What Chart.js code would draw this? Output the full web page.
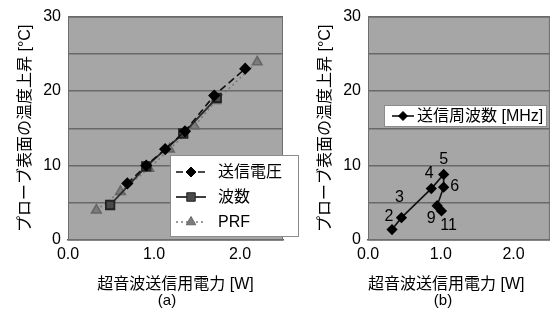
<!DOCTYPE html>
<html>
<head>
<meta charset="utf-8">
<script src="https://cdn.jsdelivr.net/npm/chart.js@4/dist/chart.umd.min.js"></script>
<style>
  html, body { margin: 0; padding: 0; background: #fff; }
  #wrap { position: relative; width: 556px; height: 320px; overflow: hidden; }
  canvas { position: absolute; top: 0; }
  #chartA { left: 0; }
  #chartB { left: 300px; }
  .cap { position: absolute; top: 291px; width: 40px; text-align: center;
         font: 15px "Liberation Sans", sans-serif; color: #000; }
</style>
</head>
<body>
<div id="wrap">
  <canvas id="chartA" width="300" height="320"></canvas>
  <canvas id="chartB" width="256" height="320"></canvas>
  <div class="cap" style="left:147px">(a)</div>
  <div class="cap" style="left:423px">(b)</div>
</div>
<script>
// (a) 送信条件を変えたときの温度上昇
const VOLT_X = [0.69, 0.91, 1.13, 1.36, 1.70, 2.06];
const VOLT_Y = [7.6, 10.0, 12.2, 14.6, 19.4, 23.0];
const WAVE_X = [0.49, 0.91, 1.34, 1.73];
const WAVE_Y = [4.7, 9.9, 14.3, 19.1];
const PRF_X = [0.33, 0.61, 0.94, 1.18, 1.47, 1.72, 2.20];
const PRF_Y = [4.0, 6.5, 9.6, 12.2, 15.3, 18.7, 23.9];

// (b) 送信周波数 [MHz]
const FREQ_X = [0.33, 0.46, 0.87, 1.04, 1.04, 0.95, 1.01];
const FREQ_Y = [1.4, 3.0, 6.9, 8.8, 7.1, 4.6, 3.9];
const FREQ_LABELS = ['2', '3', '4', '5', '6', '9', '11'];

const X_TICKS = [0, 1, 2];
const Y_TICKS = [0, 10, 20, 30];
const X_TITLE = '超音波送信用電力 [W]';
const Y_TITLE = 'プローブ表面の温度上昇 [°C]';

const FONT = '"Liberation Sans", "Noto Sans CJK JP", sans-serif';
Chart.defaults.font.family = FONT;
Chart.defaults.color = '#000';

const toPoints = (xs, ys) => xs.map((x, i) => ({ x: x, y: ys[i] }));

// gray plot area + outline
const plotBg = {
  id: 'plotBg',
  beforeDraw(chart) {
    const { ctx, chartArea: a } = chart;
    ctx.save();
    ctx.fillStyle = '#a6a6a6';
    ctx.fillRect(a.left, a.top, a.right - a.left, a.bottom - a.top);
    ctx.restore();
  },
  beforeDatasetsDraw(chart) {
    const { ctx, chartArea: a } = chart;
    ctx.save();
    ctx.strokeStyle = '#6e6e6e';
    ctx.lineWidth = 1;
    ctx.strokeRect(a.left + 0.5, a.top + 0.5, a.right - a.left - 1, a.bottom - a.top - 1);
    ctx.restore();
  }
};

// legend box drawn inside the plot like the original
const boxLegend = {
  id: 'boxLegend',
  afterDatasetsDraw(chart, args, o) {
    const ctx = chart.ctx;
    ctx.save();
    ctx.fillStyle = '#fff';
    ctx.fillRect(o.left, o.top, o.width, o.height);
    ctx.strokeStyle = '#8c8c8c';
    ctx.lineWidth = 1;
    ctx.strokeRect(o.left + 0.5, o.top + 0.5, o.width - 1, o.height - 1);
    chart.data.datasets.forEach((ds, i) => {
      const y = o.top + o.rowTop + i * o.rowGap;
      ctx.strokeStyle = ds.borderColor;
      ctx.lineWidth = ds.borderWidth;
      ctx.setLineDash(ds.borderDash || []);
      ctx.beginPath();
      ctx.moveTo(o.left + o.x0, y);
      ctx.lineTo(o.left + o.x1, y);
      ctx.stroke();
      ctx.setLineDash([]);
      ctx.fillStyle = ds.pointBackgroundColor;
      ctx.strokeStyle = ds.pointBorderColor;
      ctx.lineWidth = 1;
      Chart.helpers.drawPoint(ctx, {
        pointStyle: ds.pointStyle, radius: ds.pointRadius, rotation: 0, borderWidth: 1
      }, o.left + (o.x0 + o.x1) / 2, y);
      ctx.fillStyle = '#000';
      ctx.font = '16px ' + FONT;
      ctx.textAlign = 'left';
      ctx.textBaseline = 'middle';
      ctx.fillText(ds.label, o.left + o.textX, y + 1);
    });
    ctx.restore();
  }
};

// numbers next to the points of (b)
const pointTags = {
  id: 'pointTags',
  afterDatasetsDraw(chart, args, o) {
    const ctx = chart.ctx;
    const meta = chart.getDatasetMeta(0);
    ctx.save();
    ctx.fillStyle = '#000';
    ctx.font = '16px ' + FONT;
    ctx.textAlign = 'center';
    ctx.textBaseline = 'middle';
    meta.data.forEach((pt, i) => {
      const off = o.offsets[i];
      ctx.fillText(o.labels[i], pt.x + off[0], pt.y + off[1]);
    });
    ctx.restore();
  }
};

function makeScales(titleAlign) {
  return {
    x: {
      type: 'linear',
      min: 0,
      max: 2.5,
      afterFit: (s) => { s.height = 80; },
      grid: { display: false, drawTicks: false },
      border: { color: '#5a5a5a', width: 1.5 },
      ticks: {
        stepSize: 0.5,
        padding: 5,
        maxRotation: 0,
        font: { size: 16 },
        callback: (v) => (X_TICKS.includes(v) ? v.toFixed(1) : '')
      },
      title: {
        display: true,
        text: X_TITLE,
        align: titleAlign,
        font: { size: 16 },
        padding: { top: 0, bottom: 26 }
      }
    },
    y: {
      type: 'linear',
      min: 0,
      max: 30,
      afterFit: (s) => { s.width = 68; },
      grid: { color: '#686868', lineWidth: 1.5, drawTicks: false },
      border: { color: '#6e6e6e', width: 1 },
      ticks: {
        stepSize: 5,
        padding: 7,
        font: { size: 16 },
        callback: (v) => (Y_TICKS.includes(v) ? String(v) : '')
      },
      title: {
        display: true,
        text: Y_TITLE,
        font: { size: 16 },
        padding: { top: 16, bottom: 0 }
      }
    }
  };
}

new Chart(document.getElementById('chartA'), {
  type: 'scatter',
  data: {
    datasets: [
      {
        label: '送信電圧',
        data: toPoints(VOLT_X, VOLT_Y),
        showLine: true,
        borderColor: '#111',
        borderWidth: 1.6,
        borderDash: [7, 4],
        pointStyle: 'rectRot',
        pointRadius: 5,
        pointBackgroundColor: '#000',
        pointBorderColor: '#000'
      },
      {
        label: '波数',
        data: toPoints(WAVE_X, WAVE_Y),
        showLine: true,
        borderColor: '#2a2a2a',
        borderWidth: 1.8,
        pointStyle: 'rect',
        pointRadius: 6,
        pointBackgroundColor: '#4a4a4a',
        pointBorderColor: '#222'
      },
      {
        label: 'PRF',
        data: toPoints(PRF_X, PRF_Y),
        showLine: true,
        borderColor: '#7a7a7a',
        borderWidth: 1.6,
        borderDash: [2, 3],
        pointStyle: 'triangle',
        pointRadius: 5.5,
        pointBackgroundColor: '#7c7c7c',
        pointBorderColor: '#666'
      }
    ]
  },
  options: {
    responsive: false,
    animation: false,
    layout: { padding: { left: 0, top: 15, right: 17, bottom: 0 } },
    scales: makeScales('center'),
    plugins: {
      legend: { display: false },
      tooltip: { enabled: false },
      boxLegend: { left: 170, top: 155, width: 129, height: 82, rowTop: 17, rowGap: 25, x0: 6, x1: 36, textX: 48 }
    }
  },
  plugins: [plotBg, boxLegend]
});

new Chart(document.getElementById('chartB'), {
  type: 'scatter',
  data: {
    datasets: [
      {
        label: '送信周波数 [MHz]',
        data: toPoints(FREQ_X, FREQ_Y),
        showLine: true,
        borderColor: '#111',
        borderWidth: 1.6,
        pointStyle: 'rectRot',
        pointRadius: 4.5,
        pointBackgroundColor: '#000',
        pointBorderColor: '#000'
      }
    ]
  },
  options: {
    responsive: false,
    animation: false,
    layout: { padding: { left: 0, top: 15, right: 3, bottom: 0 } },
    scales: makeScales('start'),
    plugins: {
      legend: { display: false },
      tooltip: { enabled: false },
      boxLegend: { left: 84, top: 105, width: 163, height: 22, rowTop: 11, rowGap: 0, x0: 8, x1: 30, textX: 33 },
      pointTags: {
        labels: FREQ_LABELS,
        offsets: [[-3, -13], [-2, -20], [-2, -15], [0, -15], [11, -1], [-6, 13], [7, 15]]
      }
    }
  },
  plugins: [plotBg, boxLegend, pointTags]
});
</script>
</body>
</html>
